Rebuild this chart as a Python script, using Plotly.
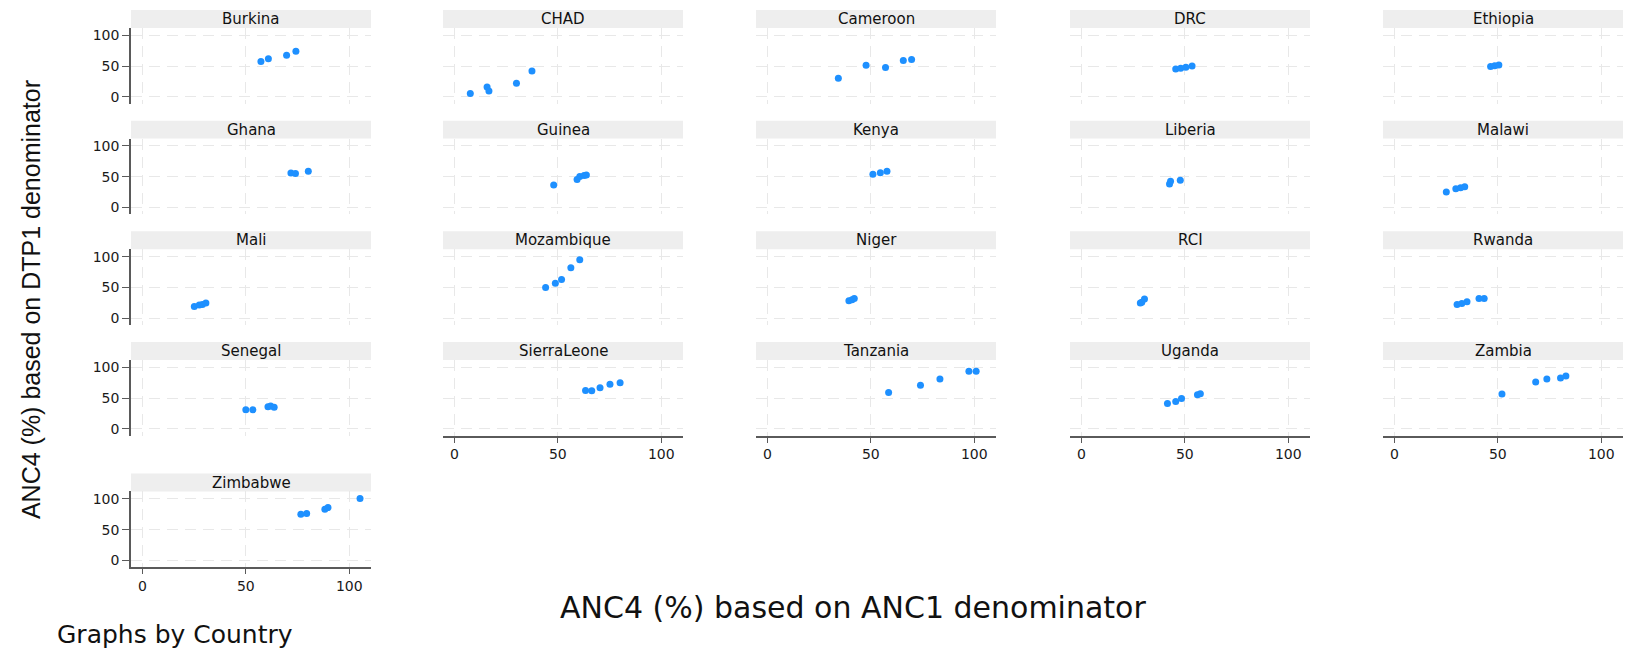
import plotly.graph_objects as go

# ---------------- data ----------------
countries = ["Burkina", "CHAD", "Cameroon", "DRC", "Ethiopia",
             "Ghana", "Guinea", "Kenya", "Liberia", "Malawi",
             "Mali", "Mozambique", "Niger", "RCI", "Rwanda",
             "Senegal", "SierraLeone", "Tanzania", "Uganda", "Zambia",
             "Zimbabwe"]

# x = ANC4 (%) based on ANC1 denominator, y = ANC4 (%) based on DTP1 denominator
burkina_x = [57.3, 60.9, 69.7, 74.2]
burkina_y = [57.5, 61.8, 67.7, 74.2]
chad_x = [7.7, 15.8, 16.7, 30.0, 37.5]
chad_y = [5.4, 16.1, 9.7, 22.0, 41.9]
cameroon_x = [34.3, 47.7, 57.1, 65.7, 69.7]
cameroon_y = [30.1, 51.6, 47.8, 59.1, 60.8]
drc_x = [45.6, 48.0, 50.5, 53.5]
drc_y = [45.2, 46.5, 48.0, 50.0]
ethiopia_x = [46.5, 48.5, 50.5]
ethiopia_y = [49.5, 50.5, 51.8]
ghana_x = [71.8, 74.0, 80.2]
ghana_y = [56.3, 55.4, 59.0]
guinea_x = [48.0, 59.3, 60.6, 62.7, 63.8]
guinea_y = [36.6, 45.4, 50.3, 51.9, 53.0]
kenya_x = [51.0, 54.6, 57.8]
kenya_y = [54.0, 56.4, 59.0]
liberia_x = [42.6, 43.1, 47.8]
liberia_y = [38.4, 42.6, 44.3]
malawi_x = [25.1, 29.7, 32.0, 34.0]
malawi_y = [25.1, 30.6, 32.2, 33.9]
mali_x = [25.1, 27.5, 29.0, 30.7]
mali_y = [19.1, 21.3, 22.4, 24.6]
mozambique_x = [44.1, 48.8, 51.8, 56.3, 60.6]
mozambique_y = [49.7, 56.8, 62.8, 82.0, 95.0]
niger_x = [39.4, 40.9, 42.0]
niger_y = [28.4, 30.0, 32.2]
rci_x = [28.5, 29.2, 30.5]
rci_y = [24.6, 26.0, 31.1]
rwanda_x = [30.3, 32.6, 35.1, 40.9, 43.4]
rwanda_y = [22.4, 24.0, 26.8, 32.2, 32.2]
senegal_x = [50.0, 53.4, 60.7, 62.0, 63.7]
senegal_y = [31.0, 31.0, 35.9, 37.0, 35.3]
sierraleone_x = [63.4, 66.4, 70.4, 75.2, 80.1]
sierraleone_y = [62.5, 62.0, 66.8, 72.3, 75.0]
tanzania_x = [58.6, 74.0, 83.4, 97.4, 100.9]
tanzania_y = [59.2, 70.7, 81.0, 93.5, 93.5]
uganda_x = [41.6, 45.6, 48.4, 56.1, 57.5]
uganda_y = [41.3, 44.6, 49.5, 55.4, 57.1]
zambia_x = [52.0, 68.3, 73.7, 80.3, 82.9]
zambia_y = [56.5, 76.1, 81.0, 82.6, 85.9]
zimbabwe_x = [76.6, 79.4, 88.2, 89.7, 105.2]
zimbabwe_y = [75.0, 76.1, 83.2, 85.9, 100.5]

series = [
    (burkina_x, burkina_y), (chad_x, chad_y), (cameroon_x, cameroon_y),
    (drc_x, drc_y), (ethiopia_x, ethiopia_y), (ghana_x, ghana_y),
    (guinea_x, guinea_y), (kenya_x, kenya_y), (liberia_x, liberia_y),
    (malawi_x, malawi_y), (mali_x, mali_y), (mozambique_x, mozambique_y),
    (niger_x, niger_y), (rci_x, rci_y), (rwanda_x, rwanda_y),
    (senegal_x, senegal_y), (sierraleone_x, sierraleone_y),
    (tanzania_x, tanzania_y), (uganda_x, uganda_y), (zambia_x, zambia_y),
    (zimbabwe_x, zimbabwe_y),
]

tick_vals = [0, 50, 100]
tick_text = ["0", "50", "100"]

x_title = "ANC4 (%) based on ANC1 denominator"
y_title = "ANC4 (%) based on DTP1 denominator"
note = "Graphs by Country"

# ---------------- layout geometry (pixels) ----------------
W, H = 1631, 652
col_left = [131, 443, 756, 1070, 1383]
panel_w = 240
row_top = [9, 120, 231, 342, 474]
strip_h = 18
plot_h = 76
x_range = [-5.5, 110.5]
y_range = [-11, 112]

FONT = "DejaVu Sans"
GRID = "#e8e8e8"
AXIS = "#5a5a5a"
MARK = "#1e90ff"

def px_x(p):
    return p / W

def px_y(p):
    return 1 - p / H

fig = go.Figure()
layout = dict(
    width=W, height=H,
    margin=dict(l=0, r=0, t=0, b=0),
    paper_bgcolor="white", plot_bgcolor="white",
    showlegend=False,
    font=dict(family=FONT, color="#222222"),
)
shapes = []
annotations = []

n = len(countries)
for i, name in enumerate(countries):
    r, c = divmod(i, 5)
    k = i + 1
    xs, ys = series[i]
    x0 = col_left[c]
    x1 = x0 + panel_w
    top = row_top[r] + strip_h
    bot = top + plot_h

    bottom_of_col = (i + 5 >= n)
    left_col = (c == 0)

    ax_suffix = "" if k == 1 else str(k)
    layout["xaxis" + ax_suffix] = dict(
        domain=[px_x(x0), px_x(x1)], anchor="y" + ax_suffix,
        range=x_range, tickmode="array", tickvals=tick_vals, ticktext=tick_text,
        showgrid=True, gridcolor=GRID, gridwidth=1.2, griddash="11px,7px",
        zeroline=False,
        showline=bottom_of_col, linecolor=AXIS, linewidth=2,
        ticks="outside" if bottom_of_col else "", ticklen=5, tickcolor=AXIS,
        showticklabels=bottom_of_col,
        tickfont=dict(family=FONT, size=14, color="#1a1a1a"),
        fixedrange=True,
    )
    layout["yaxis" + ax_suffix] = dict(
        domain=[px_y(bot), px_y(top)], anchor="x" + ax_suffix,
        range=y_range, tickmode="array", tickvals=tick_vals, ticktext=tick_text,
        showgrid=True, gridcolor=GRID, gridwidth=1.2, griddash="11px,7px",
        zeroline=False,
        showline=left_col, linecolor=AXIS, linewidth=1.5,
        ticks="outside" if left_col else "", ticklen=7, tickcolor=AXIS,
        showticklabels=left_col,
        tickfont=dict(family=FONT, size=14, color="#1a1a1a"),
        fixedrange=True,
    )
    fig.add_trace(go.Scatter(
        x=xs, y=ys, mode="markers",
        marker=dict(color=MARK, size=7, line=dict(width=0)),
        xaxis="x" + ax_suffix, yaxis="y" + ax_suffix,
        hoverinfo="x+y",
    ))
    # header strip
    shapes.append(dict(
        type="rect", xref="paper", yref="paper",
        x0=px_x(x0), x1=px_x(x1), y0=px_y(row_top[r] + strip_h), y1=px_y(row_top[r]),
        fillcolor="#eeeeee", line=dict(width=0), layer="below",
    ))
    annotations.append(dict(
        x=px_x(x0 + panel_w / 2), y=px_y(row_top[r] + strip_h / 2),
        xref="paper", yref="paper", text=name, showarrow=False,
        xanchor="center", yanchor="middle",
        font=dict(family=FONT, size=15, color="#111111"),
    ))

annotations.append(dict(
    x=px_x(853), y=px_y(608), xref="paper", yref="paper", text=x_title,
    showarrow=False, xanchor="center", yanchor="middle",
    font=dict(family=FONT, size=30, color="#111111"),
))
annotations.append(dict(
    x=px_x(31), y=px_y(300), xref="paper", yref="paper", text=y_title,
    showarrow=False, xanchor="center", yanchor="middle", textangle=-90,
    font=dict(family="Liberation Sans", size=25, color="#111111"),
))
annotations.append(dict(
    x=px_x(55), y=px_y(635), xref="paper", yref="paper", text=note,
    showarrow=False, xanchor="left", yanchor="middle",
    font=dict(family=FONT, size=25, color="#111111"),
))

layout["shapes"] = shapes
layout["annotations"] = annotations
fig.update_layout(**layout)
fig.write_html("out.html", config={"displayModeBar": False})
